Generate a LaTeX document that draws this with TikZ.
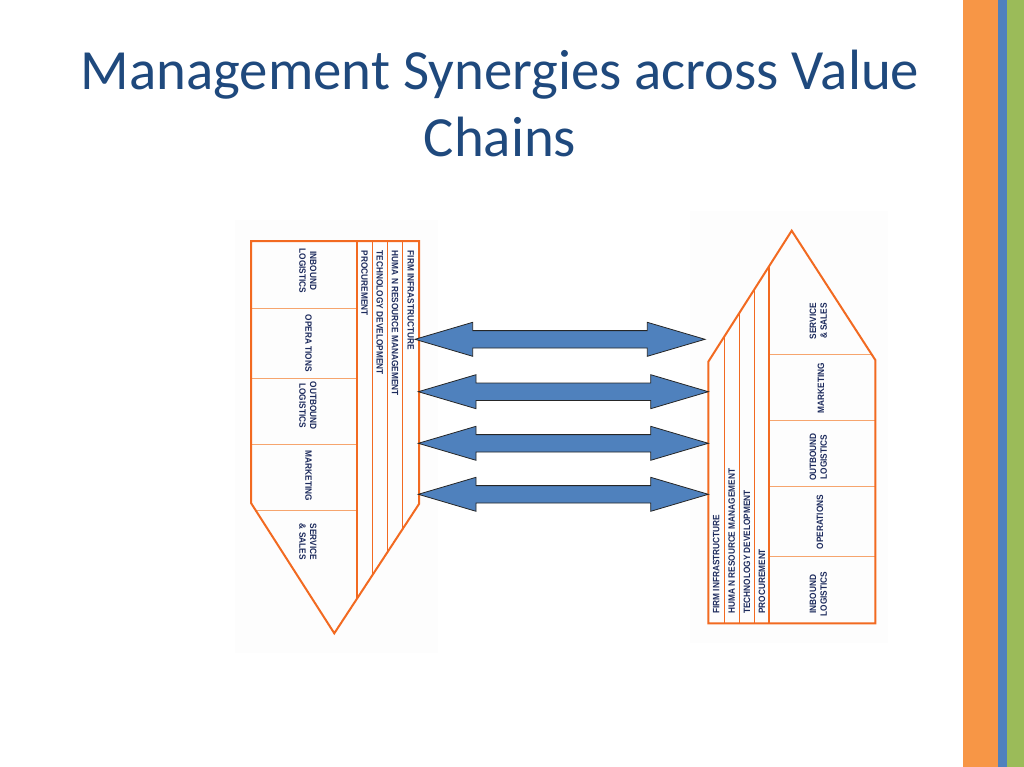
\documentclass[tikz,border=0pt]{standalone}
\usepackage{fontspec}
\setmainfont{Carlito}
\newfontfamily\labfont[FakeStretch=0.9]{Liberation Sans}
\definecolor{vcorange}{HTML}{F26A21}
\definecolor{vclight}{HTML}{F6A56E}
\definecolor{vcnavy}{HTML}{1C2A5C}
\definecolor{titleblue}{HTML}{1F497D}
\definecolor{arrowblue}{HTML}{4F81BD}
\definecolor{barorange}{HTML}{F79646}
\definecolor{barblue}{HTML}{4F81BD}
\definecolor{bargreen}{HTML}{9BBB59}
\definecolor{imgbg}{HTML}{FDFDFD}
\begin{document}
\begin{tikzpicture}[x=1pt,y=-1pt,
  thickline/.style={draw=vcorange, line width=2pt, line join=miter},
  thinline/.style={draw=vcorange, line width=1pt},
  cellline/.style={draw=vclight, line width=1pt},
  lab/.style={font=\labfont\bfseries\fontsize{9.2}{10.8}\selectfont, text=vcnavy, inner sep=0pt, align=center},
  blockarrow/.style={fill=arrowblue, draw=black!85, line width=0.8pt, line join=miter},
  titletext/.style={font=\fontsize{56.8}{66}\selectfont, text=titleblue, anchor=base, inner sep=0pt}
]
\useasboundingbox[fill=white] (0,0) rectangle (1024,767);

% side bars
\fill[barorange] (963,0) rectangle (998,767);
\fill[barblue] (998,0) rectangle (1007,767);
\fill[bargreen] (1007,0) rectangle (1024,767);

% title
\node[titletext] (title1) at (500,89.3) {Management Synergies across Value};
\node[titletext] (title2) at (500,157) {Chains};

% faint picture backgrounds
\fill[imgbg] (235,220) rectangle (438,653);
\fill[imgbg] (690,211) rectangle (888,643);

% ---------- left value chain ----------
\draw[cellline] (251,308.3) -- (357,308.3);
\draw[cellline] (251,378.7) -- (357,378.7);
\draw[cellline] (251,444.3) -- (357,444.3);
\draw[cellline] (255.9,510.7) -- (357,510.7);
\draw[thinline] (372,241) -- (372,575.8);
\draw[thinline] (387.3,241) -- (387.3,552.4);
\draw[thinline] (402.7,241) -- (402.7,528.9);
\draw[thickline] (357,241) -- (357,598.6);
\draw[thickline] (251,241) -- (419,241) -- (419,504) -- (334.3,633.3) -- (251,503) -- cycle;

\node[lab, rotate=-90, anchor=west] (lfirm) at (410.8,250.7) {FIRM INFRASTRUCTURE};
\node[lab, rotate=-90, anchor=west] (lhrm) at (395,250.7) {HUMA N RESOURCE MANAGEMENT};
\node[lab, rotate=-90, anchor=west] (ltech) at (379.7,250.7) {TECHNOLOGY DEVELOPMENT};
\node[lab, rotate=-90, anchor=west] (lproc) at (364.5,250.7) {PROCUREMENT};

\node[lab, rotate=-90] (linb) at (308,271) {INBOUND\\LOGISTICS};
\node[lab, rotate=-90] (lops) at (308.5,343.3) {OPERA TIONS};
\node[lab, rotate=-90] (lout) at (308,405.7) {OUTBOUND\\LOGISTICS};
\node[lab, rotate=-90] (lmkt) at (308.5,476) {MARKETING};
\node[lab, rotate=-90] (lsvc) at (308,541.7) {SERVICE\\\& SALES};

% ---------- right value chain ----------
\draw[cellline] (769.3,354) -- (871.4,354);
\draw[cellline] (769.3,420.3) -- (875.3,420.3);
\draw[cellline] (769.3,486) -- (875.3,486);
\draw[cellline] (769.3,556.7) -- (875.3,556.7);
\draw[thinline] (724.3,623.3) -- (724.3,336.6);
\draw[thinline] (739.3,623.3) -- (739.3,313);
\draw[thinline] (754.5,623.3) -- (754.5,289.1);
\draw[thickline] (769.3,623.3) -- (769.3,265.9);
\draw[thickline] (708.3,623.3) -- (708.3,361.7) -- (791.7,230.7) -- (875.3,360) -- (875.3,623.3) -- cycle;

\node[lab, rotate=90, anchor=west] (rfirm) at (716.3,614) {FIRM INFRASTRUCTURE};
\node[lab, rotate=90, anchor=west] (rhrm) at (731.8,614) {HUMA N RESOURCE MANAGEMENT};
\node[lab, rotate=90, anchor=west] (rtech) at (747,614) {TECHNOLOGY DEVELOPMENT};
\node[lab, rotate=90, anchor=west] (rproc) at (762,614) {PROCUREMENT};

\node[lab, rotate=90] (rinb) at (818.3,594) {INBOUND\\LOGISTICS};
\node[lab, rotate=90] (rops) at (820,522) {OPERATIONS};
\node[lab, rotate=90] (rout) at (818.3,457) {OUTBOUND\\LOGISTICS};
\node[lab, rotate=90] (rmkt) at (821,388) {MARKETING};
\node[lab, rotate=90] (rsvc) at (818.3,321) {SERVICE\\\& SALES};

% ---------- double block arrows ----------
\draw[blockarrow] (415,339.3) -- (472.7,322.3) -- (472.7,330.6) -- (647.3,330.6) -- (647.3,322.3)
  -- (705,339.3) -- (647.3,356.3) -- (647.3,348) -- (472.7,348) -- (472.7,356.3) -- cycle;
\foreach \c in {391.7,443.3,494.3}{
  \draw[blockarrow] (418.3,\c) -- (476,\c-17) -- (476,\c-8.7) -- (650.7,\c-8.7) -- (650.7,\c-17)
    -- (708.3,\c) -- (650.7,\c+17) -- (650.7,\c+8.7) -- (476,\c+8.7) -- (476,\c+17) -- cycle;
}
\end{tikzpicture}
\end{document}
